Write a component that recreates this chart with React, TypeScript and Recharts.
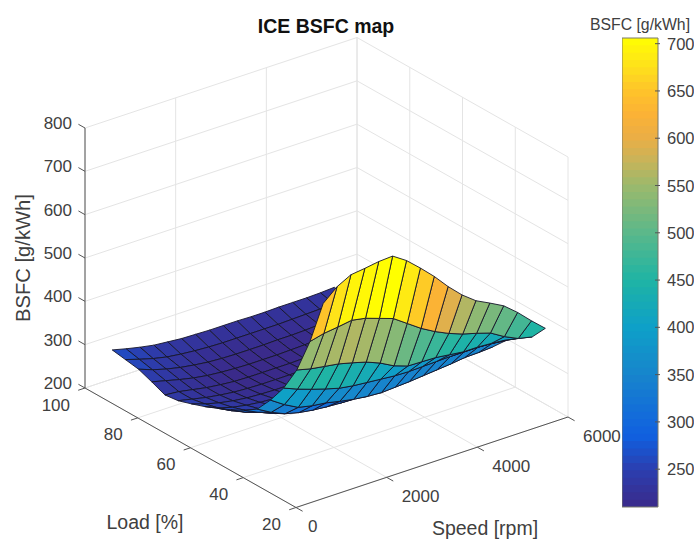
import { ComposedChart, ReferenceArea, Scatter, ScatterChart, XAxis, YAxis } from "recharts";

const WIDTH = 694;
const HEIGHT = 541;

const speeds = [600, 906, 1212, 1519, 1825, 2131, 2438, 2744, 3050, 3356, 3663, 3969, 4275, 4581, 4888, 5194, 5500];
const loads = [100, 95, 90, 85, 80, 75, 70, 65, 60, 55, 50, 45, 40, 35, 30, 25, 20];

// one row per load (same order as loads), one column per speed
const bsfc = [
  [267, 259, 252, 246, 243, 240, 239, 238, 238, 238, 237, 237, 238, 238, 238, 239, 241],
  [262, 252, 243, 236, 232, 229, 227, 226, 226, 226, 226, 226, 227, 228, 229, 231, 234],
  [257, 245, 236, 229, 224, 220, 218, 217, 217, 217, 218, 218, 219, 221, 223, 226, 230],
  [245, 237, 229, 222, 217, 214, 212, 211, 211, 211, 212, 213, 215, 217, 220, 224, 229],
  [232, 229, 223, 217, 213, 210, 209, 209, 209, 209, 210, 212, 214, 217, 221, 226, 232],
  [236, 229, 222, 217, 213, 211, 210, 210, 210, 211, 212, 214, 217, 221, 225, 231, 238],
  [246, 235, 227, 221, 217, 215, 214, 214, 215, 216, 218, 220, 224, 228, 233, 239, 247],
  [257, 243, 234, 228, 224, 222, 221, 221, 222, 224, 226, 229, 233, 237, 243, 250, 258],
  [270, 254, 244, 237, 233, 231, 230, 230, 231, 233, 235, 238, 242, 247, 252, 258, 266],
  [284, 268, 257, 250, 245, 243, 242, 242, 243, 245, 247, 250, 254, 258, 263, 268, 275],
  [300, 285, 272, 264, 259, 256, 255, 255, 256, 258, 261, 264, 268, 272, 276, 280, 285],
  [320, 302, 288, 280, 275, 272, 270, 270, 271, 273, 276, 279, 283, 286, 289, 292, 295],
  [358, 337, 320, 313, 309, 302, 296, 292, 290, 292, 294, 297, 300, 303, 307, 308, 310],
  [403, 390, 379, 369, 360, 355, 352, 349, 346, 345, 346, 347, 348, 348, 348, 346, 342],
  [462, 454, 449, 444, 436, 427, 414, 397, 386, 385, 384, 380, 376, 376, 374, 371, 365],
  [545, 553, 557, 562, 556, 545, 534, 512, 490, 472, 457, 445, 436, 426, 407, 392, 385],
  [650, 678, 695, 699, 704, 706, 685, 657, 627, 593, 563, 539, 523, 506, 480, 450, 422],
];

const speedTicks = [0, 2000, 4000, 6000];
const loadTicks = [20, 40, 60, 80, 100];
const bsfcTicks = [200, 300, 400, 500, 600, 700, 800];
const barTicks = [250, 300, 350, 400, 450, 500, 550, 600, 650, 700];
const barDomain = [210, 706];

const colorValues = [210, 250, 285, 300, 350, 400, 450, 500, 550, 575, 600, 625, 650, 675, 706];
const colorStops = [
  "#3a2a8a", "#2b3fb0", "#1060e0", "#1268dc", "#1785cc", "#0ea0c8", "#1fb4a4", "#5bb88a",
  "#9cb96c", "#c6b45a", "#eaae46", "#fbb236", "#fec32a", "#fee01c", "#ffff00",
];

const hexToRgb = (hex: string) => [1, 3, 5].map((i) => parseInt(hex.slice(i, i + 2), 16));

function colorOf(value: number) {
  let i = 0;
  while (i < colorValues.length - 2 && value > colorValues[i + 1]) i++;
  const t = Math.min(1, Math.max(0, (value - colorValues[i]) / (colorValues[i + 1] - colorValues[i])));
  const a = hexToRgb(colorStops[i]);
  const b = hexToRgb(colorStops[i + 1]);
  const c = a.map((v, k) => Math.round(v + (b[k] - v) * t));
  return `rgb(${c[0]},${c[1]},${c[2]})`;
}

// orthographic view of the speed / load / bsfc box, matlab style
function project(speed: number, load: number, z: number) {
  return {
    px: 296 + (speed / 6000) * 272 - ((load - 20) / 80) * 211,
    py: 507.5 - (speed / 6000) * 90.5 - ((load - 20) / 80) * 119.5 - ((z - 200) / 600) * 260,
  };
}

// far to near so that the nearer faces paint over the farther ones
const faceCorners: { px: number; py: number }[] = [];
const faceColors: string[] = [];
for (let row = 0; row < loads.length - 1; row++) {
  for (let col = speeds.length - 2; col >= 0; col--) {
    faceCorners.push(
      project(speeds[col], loads[row], bsfc[row][col]),
      project(speeds[col + 1], loads[row], bsfc[row][col + 1]),
      project(speeds[col + 1], loads[row + 1], bsfc[row + 1][col + 1]),
      project(speeds[col], loads[row + 1], bsfc[row + 1][col]),
    );
    // flat shading takes the corner with the lowest load and speed
    faceColors.push(colorOf(bsfc[row + 1][col]));
  }
}

const gridPoints: { px: number; py: number }[] = [];
const addSegment = (list: typeof gridPoints, a: number[], b: number[]) => {
  list.push(project(a[0], a[1], a[2]), project(b[0], b[1], b[2]));
};
speedTicks.forEach((s) => {
  addSegment(gridPoints, [s, 20, 200], [s, 100, 200]);
  addSegment(gridPoints, [s, 100, 200], [s, 100, 800]);
});
loadTicks.forEach((l) => {
  addSegment(gridPoints, [0, l, 200], [6000, l, 200]);
  addSegment(gridPoints, [6000, l, 200], [6000, l, 800]);
});
bsfcTicks.forEach((z) => {
  addSegment(gridPoints, [0, 100, z], [6000, 100, z]);
  addSegment(gridPoints, [6000, 100, z], [6000, 20, z]);
});

const axisPoints: { px: number; py: number }[] = [];
addSegment(axisPoints, [0, 100, 200], [0, 100, 800]);
addSegment(axisPoints, [0, 100, 200], [0, 20, 200]);
addSegment(axisPoints, [0, 20, 200], [6000, 20, 200]);
bsfcTicks.forEach((z) => addSegment(axisPoints, [0, 100, z], [0, 102.5, z]));
loadTicks.forEach((l) => addSegment(axisPoints, [0, l, 200], [-150, l, 200]));
speedTicks.forEach((s) => addSegment(axisPoints, [s, 20, 200], [s, 17.5, 200]));

const offsetLabel = (speed: number, load: number, z: number, dx: number, dy: number, label: number) => {
  const p = project(speed, load, z);
  return { px: p.px + dx, py: p.py + dy, label };
};
const bsfcLabels = bsfcTicks.map((z) => offsetLabel(0, 100, z, -13, -4.5, z));
const loadLabels = loadTicks.map((l) => offsetLabel(0, l, 200, -15, 17, l));
const speedLabels = speedTicks.map((s) => offsetLabel(s, 20, 200, s === 0 ? 12 : 15, 19, s));

const colorBands = Array.from({ length: 64 }, (_, i) => {
  const step = (barDomain[1] - barDomain[0]) / 64;
  return { from: barDomain[0] + i * step, color: colorOf(barDomain[0] + (i + 0.5) * step) };
});

const noDot = () => <g />;
const TEXT = "#404040";
const FONT = "'Liberation Sans', Arial, sans-serif";

const renderFaces = (props: any) => {
  const pts = props.points;
  return (
    <g>
      {faceColors.map((fill, i) => (
        <polygon
          key={i}
          points={[0, 1, 2, 3].map((k) => `${pts[i * 4 + k].x},${pts[i * 4 + k].y}`).join(" ")}
          fill={fill}
          stroke="#16162a"
          strokeWidth={0.9}
          strokeLinejoin="round"
        />
      ))}
    </g>
  );
};

const renderSegments = (stroke: string, strokeWidth: number) => (props: any) => {
  const pts = props.points;
  const lines = [];
  for (let i = 0; i + 1 < pts.length; i += 2) {
    lines.push(
      <line key={i} x1={pts[i].x} y1={pts[i].y} x2={pts[i + 1].x} y2={pts[i + 1].y} stroke={stroke} strokeWidth={strokeWidth} />,
    );
  }
  return <g>{lines}</g>;
};

const tickText = (anchor: "start" | "end") => (props: any) => (
  <text
    x={props.cx}
    y={props.cy}
    textAnchor={anchor}
    dominantBaseline="central"
    fontSize={17}
    fontFamily={FONT}
    fill={TEXT}
  >
    {props.payload.label}
  </text>
);

const BarTick = (props: any) => (
  <g>
    <line x1={props.x - 5} y1={props.y} x2={props.x} y2={props.y} stroke="#555" strokeWidth={1} />
    <text x={props.x + 7} y={props.y} dominantBaseline="central" fontSize={16.5} fontFamily={FONT} fill={TEXT}>
      {props.payload.value}
    </text>
  </g>
);

export default function App() {
  return (
    <div style={{ position: "absolute", left: 0, top: 0, width: WIDTH, height: HEIGHT, background: "#fff", overflow: "hidden" }}>
      <ScatterChart width={WIDTH} height={HEIGHT} margin={{ top: 0, right: 0, bottom: 0, left: 0 }}>
        <XAxis type="number" dataKey="px" domain={[0, WIDTH]} hide allowDataOverflow />
        <YAxis type="number" dataKey="py" domain={[0, HEIGHT]} reversed hide allowDataOverflow />
        <Scatter data={gridPoints} shape={noDot} line={renderSegments("#e4e4e4", 1)} isAnimationActive={false} />
        <Scatter data={faceCorners} shape={noDot} line={renderFaces} isAnimationActive={false} />
        <Scatter data={axisPoints} shape={noDot} line={renderSegments("#555555", 1)} isAnimationActive={false} />
        <Scatter data={bsfcLabels} shape={tickText("end")} isAnimationActive={false} />
        <Scatter data={loadLabels} shape={tickText("end")} isAnimationActive={false} />
        <Scatter data={speedLabels} shape={tickText("start")} isAnimationActive={false} />
        <text x={326} y={33} textAnchor="middle" fontSize={19.5} fontWeight="bold" fontFamily={FONT} fill="#111">
          ICE BSFC map
        </text>
        <text x={145} y={529} textAnchor="middle" fontSize={19.5} fontFamily={FONT} fill={TEXT}>
          Load [%]
        </text>
        <text x={485} y={535} textAnchor="middle" fontSize={19.5} fontFamily={FONT} fill={TEXT}>
          Speed [rpm]
        </text>
        <text x={30} y={258} transform="rotate(-90 30 258)" textAnchor="middle" fontSize={20.2} fontFamily={FONT} fill={TEXT}>
          BSFC [g/kWh]
        </text>
        <text x={640} y={30} textAnchor="middle" fontSize={15.8} fontFamily={FONT} fill={TEXT}>
          BSFC [g/kWh]
        </text>
      </ScatterChart>
      <div style={{ position: "absolute", left: 622, top: 28 }}>
        <ComposedChart width={72} height={489} margin={{ top: 10, right: 0, bottom: 10, left: 0 }} data={[{ x: 0 }, { x: 1 }]}>
          <XAxis type="number" dataKey="x" domain={[0, 1]} hide />
          <YAxis
            type="number"
            orientation="right"
            width={36}
            domain={barDomain}
            ticks={barTicks}
            interval={0}
            axisLine={false}
            tickLine={false}
            tickSize={0}
            tick={BarTick}
            allowDataOverflow
          />
          {/* each band runs up to the top of the bar and the next one paints over it, so no seams show */}
          {colorBands.map((band) => (
            <ReferenceArea
              key={band.from}
              x1={0}
              x2={1}
              y1={band.from}
              y2={barDomain[1]}
              fill={band.color}
              fillOpacity={1}
              stroke="none"
              ifOverflow="visible"
            />
          ))}
          <ReferenceArea x1={0} x2={1} y1={barDomain[0]} y2={barDomain[1]} fill="none" stroke="#7a7a6a" strokeWidth={1} ifOverflow="visible" />
        </ComposedChart>
      </div>
    </div>
  );
}
